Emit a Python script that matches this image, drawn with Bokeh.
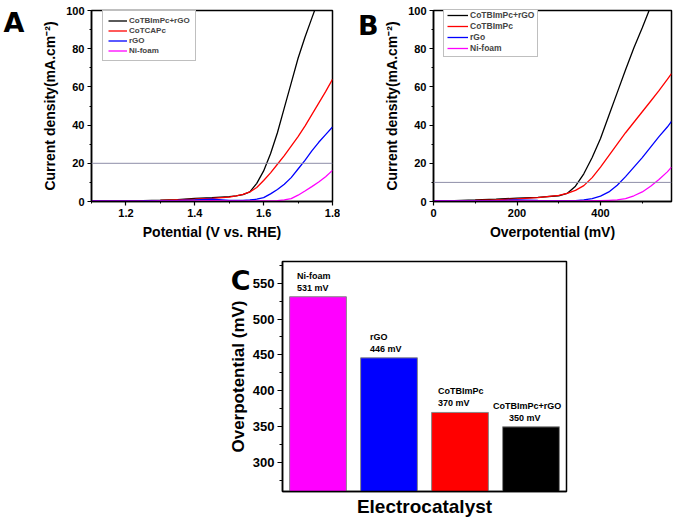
from bokeh.plotting import figure
from bokeh.layouts import column, row
from bokeh.models import (Span, Legend, LegendItem, FixedTicker, LinearAxis,
                          ColumnDataSource, FactorRange, Range1d)
from bokeh.embed import file_html
from bokeh.resources import INLINE
from bokeh.core.properties import value

FONT = "Liberation Sans"

# ---------------- Panel A data ----------------
a_potential = [1.10, 1.15, 1.20, 1.25, 1.30, 1.35, 1.40, 1.45, 1.50, 1.52, 1.54, 1.56,
               1.58, 1.60, 1.62, 1.64, 1.66, 1.68, 1.70, 1.72, 1.74, 1.76, 1.78, 1.80]
a_cotbimpc_rgo = [0.3, 0.35, 0.4, 0.5, 0.7, 1.0, 1.6, 2.0, 2.5, 3.0, 3.6, 5.0,
                  9.5, 16, 25, 36, 49, 62, 75, 86, 96, 106]
a_cotcapc = [0.2, 0.25, 0.3, 0.4, 0.6, 0.9, 1.2, 1.6, 2.3, 2.9, 3.7, 5.0,
             7.3, 11, 15, 19.5, 24, 29, 34, 39.5, 45.5, 51.5, 57.5, 64]
a_rgo = [0.3, 0.3, 0.35, 0.4, 0.5, 0.6, 0.8, 1.2, 0.6, 0.6, 0.6, 0.8,
         1.2, 2.0, 4.0, 6.3, 9.0, 12.5, 17, 21.5, 26.5, 31, 35, 39]
a_nifoam = [0.2, 0.2, 0.2, 0.2, 0.25, 0.3, 0.35, 0.5, 0.3, 0.3, 0.3, 0.3,
            0.3, 0.3, 0.35, 0.5, 0.8, 1.5, 3.3, 5.5, 7.8, 10.2, 13, 16.3]
a_labels = ["CoTBImPc+rGO", "CoTCAPc", "rGO", "Ni-foam"]
a_ref_current = 20

# ---------------- Panel B data ----------------
b_overpotential = [0, 50, 100, 150, 200, 250, 300, 320, 340, 360, 380, 400,
                   420, 440, 460, 480, 500, 520, 540, 560, 570]
b_cotbimpc_rgo = [0.4, 0.5, 0.8, 1.2, 1.8, 2.2, 3.0, 4.2, 8.0, 14.5, 23, 33,
                  45, 57, 69, 80.5, 91, 102]
b_cotbimpc = [0.3, 0.4, 0.6, 0.9, 1.4, 2.0, 3.2, 4.3, 5.8, 8.3, 12.5, 18,
              24, 30, 36, 41.5, 47, 52.5, 58, 64, 67]
b_rgo = [0.4, 0.4, 0.4, 0.5, 0.8, 0.6, 0.5, 0.5, 0.5, 0.8, 1.5, 2.8,
         5.0, 8.5, 13, 18, 23, 28.5, 34, 39, 42]
b_nifoam = [0.3, 0.3, 0.3, 0.3, 0.3, 0.3, 0.3, 0.3, 0.3, 0.35, 0.4, 0.4,
            0.6, 0.8, 1.5, 3.0, 5.0, 8.0, 11.5, 15.5, 18]
b_labels = ["CoTBImPc+rGO", "CoTBImPc", "rGo", "Ni-foam"]
b_ref_current = 10

# ---------------- Panel C data ----------------
c_catalysts = ["Ni-foam", "rGO", "CoTBImPc", "CoTBImPc+rGO"]
c_overpotential = [531, 446, 370, 350]

line_colors = ["#000000", "#ff0000", "#0000ff", "#ff00ff"]
bar_colors = ["#ff00ff", "#0000ff", "#ff0000", "#000000"]


def style(p, tick_size="11px", title_size="14px"):
    p.outline_line_color = "black"
    p.outline_line_width = 1.5
    p.grid.visible = False
    p.background_fill_color = "white"
    p.border_fill_color = "white"
    for ax in p.axis:
        ax.axis_line_width = 1.5
        ax.major_tick_line_width = 1.2
        ax.minor_tick_line_width = 1
        ax.major_tick_out = 4
        ax.major_tick_in = 0
        ax.minor_tick_out = 2
        ax.minor_tick_in = 0
        ax.major_label_text_font = FONT
        ax.major_label_text_font_style = "bold"
        ax.major_label_text_font_size = tick_size
        ax.major_label_text_color = "black"
        ax.major_label_standoff = 3
        ax.axis_label_text_font = FONT
        ax.axis_label_text_font_style = "bold"
        ax.axis_label_text_font_size = title_size
        ax.axis_label_text_color = "black"


def add_letter(p, text, y, standoff):
    # panel letter drawn as the single label of an extra, line-less left axis
    ax = LinearAxis(ticker=FixedTicker(ticks=[y], minor_ticks=[]),
                    major_label_overrides={y: text},
                    axis_line_color=None, major_tick_line_color=None,
                    minor_tick_line_color=None, major_tick_out=0, minor_tick_out=0,
                    major_label_standoff=standoff,
                    major_label_text_font="DejaVu Sans", major_label_text_font_style="bold",
                    major_label_text_font_size="27px", major_label_text_color="black")
    p.add_layout(ax, "left")


def curve_panel(xs, series, labels, ref, x_range, xticks, xminor, xlabel,
                width, mbl, mbr, mbt, legend_font, legend_glyph_w,
                legend_h, legend_pad, legend_loc):
    p = figure(width=width, height=242, x_range=x_range, y_range=(0, 100),
               output_backend="svg", toolbar_location=None,
               min_border_left=mbl, min_border_right=mbr,
               min_border_top=mbt, min_border_bottom=240 - 202)
    style(p)
    p.xaxis.ticker = FixedTicker(ticks=xticks, minor_ticks=xminor)
    p.yaxis.ticker = FixedTicker(ticks=[0, 20, 40, 60, 80, 100],
                                 minor_ticks=[10, 30, 50, 70, 90])
    p.xaxis.axis_label = xlabel
    p.yaxis.axis_label = "Current density(mA.cm⁻²)"
    p.xaxis.axis_label_standoff = 4
    p.yaxis.axis_label_standoff = 5
    p.add_layout(Span(location=ref, dimension="width", line_color="#8e8ea8",
                      line_width=1))
    renderers = []
    for ys, c in zip(series, line_colors):
        r = p.line(xs[:len(ys)], ys, line_color=c, line_width=1.3)
        renderers.append(r)
    items = [LegendItem(label=lab, renderers=[r]) for lab, r in zip(labels, renderers)]
    leg = Legend(items=items, location=legend_loc,
                 label_text_font=FONT, label_text_font_style="bold",
                 label_text_font_size=legend_font, label_height=legend_h,
                 glyph_height=legend_h, glyph_width=legend_glyph_w,
                 label_standoff=2, spacing=1, padding=legend_pad, margin=0,
                 border_line_color="#808080", border_line_width=1,
                 background_fill_color="white", background_fill_alpha=1)
    p.add_layout(leg, "center")
    return p


pa = curve_panel(a_potential, [a_cotbimpc_rgo, a_cotcapc, a_rgo, a_nifoam],
                 a_labels, a_ref_current, (1.1, 1.8), [1.2, 1.4, 1.6, 1.8],
                 [1.1, 1.3, 1.5, 1.7], "Potential (V vs. RHE)",
                 340, 90, 8, 10, "8px", 19, 9, 5, (11, 140))
add_letter(pa, "A", 93.5, 15)

pb = curve_panel(b_overpotential, [b_cotbimpc_rgo, b_cotbimpc, b_rgo, b_nifoam],
                 b_labels, b_ref_current, (0, 570), [0, 200, 400],
                 [100, 300, 500], "Overpotential (mV)",
                 338, 93, 7, 7, "8.5px", 21, 10, 3, (10, 144))
add_letter(pb, "B", 92, 3)

# ---------------- Panel C ----------------
pc = figure(width=678, height=280,
            x_range=FactorRange(factors=c_catalysts, range_padding=0),
            y_range=Range1d(260, 580), output_backend="svg", toolbar_location=None,
            min_border_left=282, min_border_right=112, min_border_top=19,
            min_border_bottom=31)
style(pc, tick_size="13px", title_size="17px")
src = ColumnDataSource(dict(
    cat=c_catalysts, val=c_overpotential, color=bar_colors,
    name=c_catalysts, mv=[f"{v} mV" for v in c_overpotential],
    dx1=[-21, -19, -22, -38], dx2=[-21, -19, -22, -22],
))
pc.vbar(x="cat", top="val", bottom=260, width=0.8, fill_color="color",
        line_color="#888888", line_width=1, source=src)
pc.text(x="cat", y="val", text="name", x_offset="dx1", y_offset=-21, source=src,
        text_font=value(FONT), text_font_style="bold", text_font_size="9px",
        text_align="left", text_baseline="middle", text_color="black")
pc.text(x="cat", y="val", text="mv", x_offset="dx2", y_offset=-9, source=src,
        text_font=value(FONT), text_font_style="bold", text_font_size="9px",
        text_align="left", text_baseline="middle", text_color="black")
pc.yaxis.ticker = FixedTicker(ticks=[300, 350, 400, 450, 500, 550],
                              minor_ticks=[275, 325, 375, 425, 475, 525, 575])
pc.yaxis.axis_label = "Overpotential (mV)"
pc.yaxis.axis_label_standoff = 2
pc.yaxis.major_tick_out = 5
pc.yaxis.minor_tick_out = 3
pc.xaxis.axis_label = "Electrocatalyst"
pc.xaxis.axis_label_text_font_size = "19px"
pc.xaxis.ticker = FixedTicker(ticks=[])
pc.xaxis.major_tick_out = 0
pc.xaxis.major_label_standoff = 0
pc.xaxis.axis_label_standoff = 4
add_letter(pc, "C", 553.6, -25)

layout = column(row(pa, pb, spacing=0), pc, spacing=0)
open("out.html", "w").write(file_html(layout, INLINE))
